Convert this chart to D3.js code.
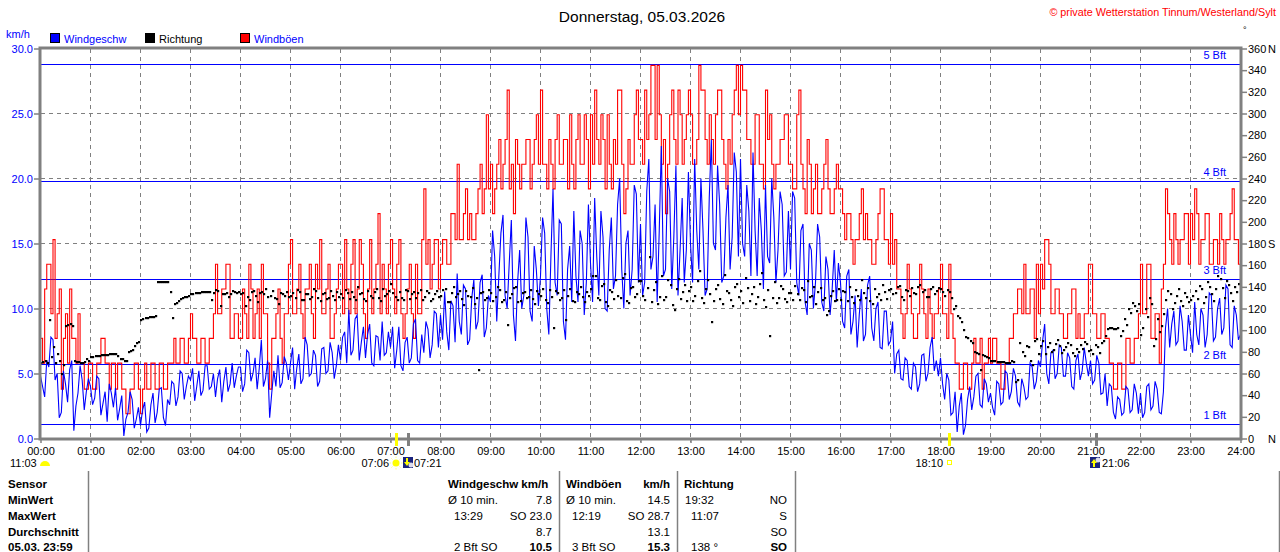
<!DOCTYPE html>
<html><head><meta charset="utf-8">
<script src="https://cdn.jsdelivr.net/npm/d3@7"></script>
<style>
html,body{margin:0;padding:0;background:#fff;}
svg{display:block;font-family:"Liberation Sans",Arial,sans-serif;}
</style></head>
<body><svg id="c" width="1280" height="552"></svg>
<script>
// ---- data (2.5-minute samples, 00:00 .. 24:00, one line per hour) ----
const windSpeed = [
 4.8,4.0,3.2,6.0,5.5,7.8,7.6,4.5,5.0,1.6,2.0,5.2,4.2,2.8,5.3,6.0,0.6,2.5,3.5,5.6,4.5,2.2,3.6,4.6,
 4.0,2.6,3.1,4.8,4.6,1.8,2.7,3.6,1.3,4.2,3.5,2.4,3.9,1.4,2.3,3.3,0.2,1.5,2.0,3.6,3.0,0.8,1.5,2.4,
 1.0,2.2,2.8,0.5,0.8,2.6,3.5,1.2,2.0,3.8,3.9,1.6,1.0,3.0,2.6,4.4,4.2,2.5,3.2,5.2,5.0,3.0,4.0,4.8,
 4.5,5.4,2.9,4.0,5.2,3.3,3.7,5.6,5.6,3.8,4.0,5.0,3.2,4.6,5.3,2.8,4.4,5.5,3.6,4.2,5.8,3.9,4.8,5.5,
 5.5,3.6,4.2,6.8,6.6,4.4,5.0,6.2,3.8,5.4,7.6,4.0,4.6,6.0,1.6,3.5,5.2,4.0,6.4,3.9,4.3,6.3,5.8,4.5,
 5.8,7.0,3.8,5.4,6.5,4.2,4.6,7.8,7.2,4.8,5.0,6.8,6.4,4.0,4.4,6.9,7.0,5.0,5.2,7.4,6.6,4.6,5.6,7.2,
 6.0,7.8,8.2,5.8,9.9,6.4,6.8,9.2,9.5,6.0,7.4,8.6,6.2,8.0,8.8,5.8,5.6,7.9,7.8,6.0,9.0,6.4,6.6,8.2,
 7.0,8.6,5.4,6.8,8.6,5.6,5.2,7.4,7.8,5.8,6.2,8.8,9.2,6.0,5.8,8.0,6.6,9.0,8.4,6.2,7.2,9.8,9.6,7.0,
 9.5,7.6,11.3,8.2,6.8,10.6,10.2,7.4,12.7,9.0,8.0,11.8,11.5,7.2,7.6,10.8,12.2,8.4,9.0,12.0,12.6,7.8,8.5,11.0,
 10.5,16.0,14.0,9.0,12.5,15.8,17.2,11.0,10.0,13.5,16.8,9.5,7.5,12.0,14.5,10.0,11.0,17.0,15.5,9.8,9.0,14.8,13.0,10.2,
 12.5,17.0,15.8,10.0,8.0,14.0,19.2,12.0,11.0,16.8,16.5,9.0,7.6,13.0,14.8,10.5,17.5,12.5,10.5,16.0,15.0,9.5,12.0,18.0,
 13.5,10.5,18.5,14.0,11.0,17.5,15.5,10.0,9.8,14.5,17.0,11.5,12.5,18.0,20.0,13.0,10.0,15.0,16.0,11.0,13.0,19.5,18.8,12.0,
 16.5,11.0,12.0,19.0,21.5,13.0,14.0,18.0,10.5,16.0,22.5,12.5,13.0,20.0,19.0,11.5,15.5,21.0,11.0,14.5,18.5,12.0,14.5,20.5,
 15.0,12.0,21.5,16.0,13.0,20.0,16.0,11.0,11.5,18.5,23.0,15.0,14.5,21.0,18.0,12.0,12.5,17.0,19.5,13.0,15.5,22.0,20.5,14.0,
 21.5,15.0,14.0,19.5,17.5,12.5,22.0,16.0,12.5,18.5,16.0,11.5,19.5,14.0,13.5,20.0,17.0,12.0,14.5,19.0,18.0,12.5,12.8,17.5,
 13.0,19.0,18.5,12.0,11.0,16.0,16.5,10.5,9.5,15.0,14.5,10.0,12.0,16.5,15.5,10.5,9.8,14.0,13.0,9.5,11.5,14.5,10.5,13.5,
 12.0,9.0,8.5,12.5,13.0,8.0,9.0,11.0,7.0,9.5,11.5,7.5,8.0,11.8,12.5,8.5,7.5,10.0,10.5,7.0,6.9,9.8,9.8,7.2,
 7.5,9.0,5.0,6.5,6.8,4.6,4.5,6.2,6.0,4.0,3.8,5.8,5.5,3.6,4.2,6.4,6.5,4.4,5.0,7.0,7.8,5.2,6.0,4.8,
 6.2,4.2,3.0,5.0,4.5,1.8,2.0,3.6,0.5,2.5,3.5,0.3,1.0,3.0,4.0,2.2,3.2,4.8,5.0,2.6,2.4,4.6,4.2,2.8,
 3.5,2.4,1.8,4.4,4.2,2.6,2.8,5.2,5.0,3.0,3.6,5.4,4.8,2.8,2.5,4.6,4.0,3.0,3.2,5.8,5.5,3.8,4.4,6.0,
 5.5,7.5,8.8,5.0,4.2,6.6,6.8,4.6,5.0,7.2,7.0,4.8,4.8,6.6,6.2,4.0,3.8,6.0,6.5,4.5,5.2,7.0,5.8,4.8,
 6.0,4.2,4.5,6.4,5.8,3.4,3.5,5.0,2.5,4.2,4.0,2.0,1.5,3.2,3.0,1.8,2.0,4.0,3.8,2.0,2.2,4.2,3.5,1.9,
 3.5,1.6,2.0,4.0,4.2,2.2,2.5,4.4,3.8,2.0,1.9,3.6,8.5,10.0,7.0,8.8,9.8,7.2,7.5,10.2,9.0,6.8,6.8,9.5,
 8.0,6.6,10.5,8.0,7.2,10.0,9.5,7.0,8.0,11.2,11.0,7.5,7.8,10.0,10.8,8.0,8.5,11.8,11.5,7.2,7.0,10.2,9.5,7.6,
 8.0
];
const windGust = [
 7.7,5.8,11.5,13.4,13.4,9.6,15.3,7.7,9.6,11.5,3.8,7.7,9.6,5.8,11.5,7.7,7.7,5.8,9.6,5.8,5.8,3.8,3.8,5.8,
 5.8,3.8,3.8,5.8,5.8,7.7,7.7,5.8,5.8,3.8,5.8,5.8,3.8,5.8,5.8,3.8,3.8,1.9,1.9,3.8,3.8,5.8,5.8,3.8,
 1.9,3.8,5.8,3.8,3.8,5.8,5.8,3.8,3.8,5.8,5.8,3.8,3.8,5.8,5.8,5.8,7.7,5.8,5.8,7.7,7.7,5.8,5.8,7.7,
 9.6,7.7,7.7,5.8,5.8,7.7,7.7,5.8,5.8,7.7,7.7,9.6,13.4,9.6,9.6,11.5,11.5,13.4,13.4,7.7,7.7,9.6,9.6,7.7,
 7.7,11.5,9.6,7.7,13.4,11.5,7.7,9.6,11.5,7.7,13.4,9.6,9.6,5.8,3.8,7.7,7.7,9.6,11.5,7.7,5.8,9.6,9.6,13.4,
 15.3,9.6,9.6,11.5,13.4,9.6,7.7,11.5,11.5,13.4,9.6,7.7,13.4,11.5,15.3,9.6,9.6,11.5,13.4,7.7,7.7,9.6,11.5,13.4,
 13.4,9.6,15.3,11.5,9.6,13.4,15.3,9.6,11.5,15.3,13.4,9.6,7.7,11.5,15.3,9.6,11.5,13.4,17.3,9.6,13.4,11.5,9.6,13.4,
 15.3,11.5,9.6,13.4,15.3,9.6,7.7,9.6,11.5,13.4,9.6,7.7,13.4,9.6,9.6,15.3,19.2,13.4,15.3,11.5,13.4,15.3,15.3,11.5,
 13.4,15.3,15.3,13.4,13.4,17.3,17.3,15.3,21.1,15.3,15.3,17.3,19.2,15.3,17.3,15.3,15.3,17.3,19.2,21.1,17.3,19.2,24.9,19.2,
 21.1,17.3,19.2,21.1,23.0,19.2,21.1,23.0,26.8,19.2,21.1,17.3,23.0,21.1,19.2,21.1,21.1,23.0,23.0,19.2,21.1,23.0,24.9,21.1,
 26.8,21.1,21.1,19.2,23.0,21.1,19.2,23.0,24.9,21.1,21.1,23.0,23.0,19.2,24.9,21.1,19.2,23.0,24.9,21.1,21.1,24.9,23.0,19.2,
 24.9,21.1,26.8,23.0,21.1,24.9,23.0,19.2,24.9,21.1,19.2,23.0,21.1,26.8,26.8,21.1,17.3,19.2,23.0,21.1,21.1,24.9,26.8,23.0,
 23.0,21.1,26.8,23.0,24.9,28.7,28.7,23.0,28.7,24.9,21.1,23.0,17.3,21.1,24.9,26.8,23.0,21.1,26.8,24.9,21.1,23.0,24.9,26.8,
 24.9,21.1,21.1,23.0,28.7,26.8,26.8,23.0,21.1,24.9,23.0,21.1,24.9,26.8,26.8,23.0,21.1,19.2,23.0,21.1,24.9,26.8,28.7,24.9,
 28.7,26.8,26.8,23.0,23.0,21.1,21.1,24.9,24.9,21.1,21.1,19.2,26.8,23.0,24.9,21.1,19.2,21.1,21.1,23.0,23.0,24.9,24.9,21.1,
 21.1,19.2,19.2,24.9,26.8,21.1,19.2,17.3,23.0,21.1,17.3,19.2,21.1,17.3,17.3,19.2,21.1,23.0,19.2,17.3,17.3,19.2,21.1,19.2,
 19.2,17.3,15.3,17.3,17.3,15.3,13.4,15.3,15.3,17.3,19.2,15.3,17.3,15.3,15.3,13.4,13.4,15.3,17.3,19.2,19.2,15.3,15.3,13.4,
 17.3,13.4,15.3,11.5,11.5,9.6,7.7,9.6,13.4,11.5,9.6,7.7,7.7,9.6,13.4,11.5,9.6,7.7,11.5,9.6,7.7,9.6,9.6,11.5,
 13.4,9.6,9.6,7.7,13.4,9.6,7.7,5.8,5.8,3.8,3.8,5.8,5.8,3.8,3.8,5.8,7.7,5.8,5.8,7.7,3.8,5.8,5.8,7.7,
 5.8,7.7,7.7,5.8,5.8,3.8,3.8,5.8,5.8,7.7,7.7,9.6,9.6,11.5,11.5,9.6,13.4,9.6,9.6,11.5,11.5,7.7,13.4,9.6,
 13.4,11.5,15.3,15.3,13.4,9.6,9.6,11.5,11.5,9.6,9.6,7.7,7.7,9.6,9.6,11.5,11.5,7.7,9.6,7.7,7.7,9.6,9.6,13.4,
 13.4,9.6,9.6,7.7,7.7,9.6,9.6,7.7,7.7,5.8,5.8,3.8,3.8,5.8,5.8,3.8,3.8,7.7,7.7,5.8,5.8,7.7,7.7,9.6,
 13.4,9.6,9.6,13.4,13.4,7.7,7.7,9.6,9.6,5.8,11.5,13.4,19.2,17.3,15.3,13.4,17.3,15.3,13.4,15.3,15.3,17.3,17.3,13.4,
 17.3,15.3,19.2,17.3,13.4,15.3,15.3,17.3,17.3,13.4,13.4,15.3,15.3,13.4,17.3,15.3,13.4,15.3,15.3,17.3,19.2,15.3,15.3,13.4,
 11.5
];
const windDir = [
 70,71,72,70,109,75,84,70,78,72,60,68,104,105,106,104,72,71,71,70,70,71,73,72,
 75,75,76,76,76,77,77,77,77,78,78,78,78,76,73,73,72,72,80,81,82,85,88,89,
 109,110,111,111,112,112,112,113,144,144,144,144,144,144,135,111,124,125,127,129,130,131,131,132,
 133,133,134,134,134,135,135,135,135,135,128,134,137,136,122,133,133,134,131,133,136,135,134,135,
 133,134,122,131,128,135,136,132,126,134,135,133,138,131,132,136,130,129,124,134,133,132,135,131,
 132,134,130,137,135,128,128,133,133,129,131,138,136,130,127,133,134,129,130,136,132,128,135,131,
 133,130,137,134,129,135,131,128,140,133,134,129,127,136,132,130,135,138,130,127,138,132,133,136,
 143,134,131,128,135,130,128,137,136,129,133,135,130,134,137,128,131,136,134,127,129,133,136,131,
 132,137,138,126,126,134,140,131,133,136,129,123,136,132,131,139,124,130,63,134,135,128,130,137,
 134,127,131,140,137,126,128,135,105,130,133,139,140,126,127,134,135,130,131,137,129,124,136,133,
 132,138,128,125,137,131,102,136,134,128,130,137,109,132,138,127,126,135,133,140,131,126,135,132,
 138,150,150,130,128,141,143,126,122,137,135,129,146,132,130,148,152,127,125,139,140,131,133,145,
 145,132,128,139,168,126,137,144,124,131,150,128,131,146,142,123,119,138,147,129,135,142,127,136,
 140,127,132,145,155,130,125,138,146,133,108,127,138,142,129,124,151,136,134,128,122,140,143,131,
 136,125,148,139,127,133,140,124,131,143,153,128,121,137,95,130,144,125,130,141,138,129,126,134,
 134,128,141,133,128,139,137,126,145,131,132,140,124,135,139,128,130,114,118,132,136,127,128,138,
 128,136,135,127,140,131,125,137,132,128,146,134,130,139,127,124,138,131,133,128,142,135,129,137,
 138,133,134,140,141,131,128,137,136,132,139,134,133,140,142,135,137,131,131,138,140,133,136,139,
 138,135,132,137,135,130,120,122,113,111,108,100,94,93,90,88,80,79,78,63,77,76,75,74,
 72,72,72,71,71,71,71,70,70,70,72,71,52,54,88,80,76,85,84,72,68,90,92,78,
 85,90,78,84,88,80,82,87,91,85,79,82,84,88,86,79,76,83,80,86,83,89,87,81,
 82,78,86,84,79,88,90,95,101,102,102,101,101,102,95,99,110,105,120,116,125,122,118,124,
 96,102,120,112,130,124,85,92,110,98,104,115,128,136,133,120,125,132,138,127,122,134,131,126,
 128,132,136,129,141,138,125,131,144,140,133,127,138,150,147,139,130,145,142,134,127,140,135,143
];
const stepMinutes = 2.5;
const hourLabels = d3.range(0,25).map(h => String(h).padStart(2,"0") + ":00");
const speedTicks = [0,5,10,15,20,25,30];
const dirTicks = d3.range(0,361,20);
const dirNames = {0:"N",180:"S",360:"N"};
const bftLabels = ["1 Bft","2 Bft","3 Bft","4 Bft","5 Bft"];
const bftValues = [1.08,5.76,12.24,19.8,28.8];
const legendNames = ["Windgeschw","Richtung","Windböen"];
const legendColors = ["#0000ff","#000000","#ff0000"];
const astroTimes = [{t:"07:06",kind:"sunrise"},{t:"07:21",kind:"moonset"},{t:"18:10",kind:"sunset"},{t:"21:06",kind:"moonrise"}];
const dayLength = "11:03";
const tableRows = ["Sensor","MinWert","MaxWert","Durchschnitt","05.03. 23:59"];
const speedCol = [["Ø 10 min.","7.8"],["13:29","SO 23.0"],["","8.7"],["2 Bft SO","10.5"]];
const gustCol  = [["Ø 10 min.","14.5"],["12:19","SO 28.7"],["","13.1"],["3 Bft SO","15.3"]];
const dirCol   = [["19:32","NO"],["11:07","S"],["","SO"],["138 °","SO"]];

// ---- drawing ----
const svg = d3.select("#c");
const L=40.5, R=1240.5, T=48.5, B=438.5;
const x = d3.scaleLinear().domain([0,1440]).range([L,R]);
const y = d3.scaleLinear().domain([0,30]).range([B,T]);
const yd = d3.scaleLinear().domain([0,360]).range([B,T]);
const gray="#808080";
const tmin = s => {const [h,m]=s.split(":").map(Number);return h*60+m;};

// title etc
svg.append("text").attr("x",642).attr("y",16).attr("text-anchor","middle").attr("dominant-baseline","central")
  .attr("font-size",15.5).text("Donnerstag, 05.03.2026");
svg.append("text").attr("x",1276).attr("y",12).attr("text-anchor","end").attr("dominant-baseline","central")
  .attr("font-size",10.8).attr("fill","#ff0000").text("© private Wetterstation Tinnum/Westerland/Sylt");
svg.append("text").attr("x",6).attr("y",34).attr("dominant-baseline","central").attr("font-size",11).attr("fill","#0000ff").text("km/h");
svg.append("text").attr("x",1243).attr("y",30).attr("dominant-baseline","central").attr("font-size",9).text("°");

// legend
const lgX=[50,145,240];
legendNames.forEach((n,i)=>{
  svg.append("rect").attr("x",lgX[i]+0.5).attr("y",33.5).attr("width",9).attr("height",9).attr("fill",legendColors[i]).attr("stroke","#000");
  svg.append("text").attr("x",lgX[i]+14).attr("y",38.5).attr("dominant-baseline","central").attr("font-size",11)
    .attr("fill", i===1?"#000":"#0000ff").text(n);
});

// grid
const g = svg.append("g").attr("shape-rendering","crispEdges");
d3.range(1,24).forEach(h=>{
  g.append("line").attr("x1",x(h*60)).attr("x2",x(h*60)).attr("y1",T).attr("y2",B+3).attr("stroke",gray).attr("stroke-dasharray","4,4");
});
speedTicks.filter(v=>v>0&&v<30).forEach(v=>{
  g.append("line").attr("x1",L).attr("x2",R).attr("y1",y(v)).attr("y2",y(v)).attr("stroke",gray).attr("stroke-dasharray","4,4");
});
// Beaufort lines
bftValues.forEach((v,i)=>{
  g.append("line").attr("x1",L).attr("x2",R).attr("y1",Math.round(y(v))+0.5).attr("y2",Math.round(y(v))+0.5).attr("stroke","#0000ff");
  svg.append("text").attr("x",1226).attr("y",y(v)-9).attr("text-anchor","end").attr("dominant-baseline","central")
    .attr("font-size",11).attr("fill","#0000ff").text(bftLabels[i]);
});

// series
const pts = arr => arr.map((v,i)=>[x(i*stepMinutes),y(v)]);
svg.append("path").attr("d",d3.line().curve(d3.curveStepAfter)(pts(windGust)))
  .attr("fill","none").attr("stroke","#ff0000").attr("stroke-width",1.1);
svg.append("path").attr("d",d3.line()(pts(windSpeed)))
  .attr("fill","none").attr("stroke","#0000ff").attr("stroke-width",1.1);
svg.append("g").selectAll("rect").data(windDir).join("rect")
  .attr("x",(d,i)=>Math.round(x(i*stepMinutes+1))-1).attr("y",d=>Math.round(yd(d))-1)
  .attr("width",2.2).attr("height",2.2).attr("fill","#000");

// frame
const fr = svg.append("g").attr("stroke",gray).attr("stroke-width",3).attr("fill","none");
fr.append("rect").attr("x",L-0.5).attr("y",T-0.5).attr("width",R-L+1).attr("height",B-T+1);

// left axis
const la = svg.append("g").attr("transform",`translate(${L-1.5},0)`)
  .call(d3.axisLeft(y).tickValues(speedTicks).tickFormat(d3.format(".1f")).tickSize(5).tickPadding(1));
la.select(".domain").remove();
la.selectAll("line").attr("stroke",gray).attr("stroke-width",1.5);
la.selectAll("text").attr("fill","#0000ff").attr("font-size",11).attr("font-family","Liberation Sans, Arial, sans-serif");

// right axis
const ra = svg.append("g").attr("transform",`translate(${R+1.5},0)`)
  .call(d3.axisRight(yd).tickValues(dirTicks).tickFormat(d=>d).tickSize(5).tickPadding(1));
ra.select(".domain").remove();
ra.selectAll("line").attr("stroke",gray).attr("stroke-width",1.5);
ra.selectAll("text").attr("fill","#000").attr("font-size",11).attr("font-family","Liberation Sans, Arial, sans-serif");
dirTicks.filter(d=>dirNames[d]).forEach(d=>{
  svg.append("text").attr("x",1268).attr("y",yd(d)).attr("dominant-baseline","central").attr("font-size",11).text(dirNames[d]);
});

// bottom axis
const ba = svg.append("g").attr("transform",`translate(0,${B+1.5})`)
  .call(d3.axisBottom(x).tickValues(d3.range(0,1441,60)).tickFormat((d,i)=>hourLabels[i]).tickSize(3).tickPadding(4));
ba.select(".domain").remove();
ba.selectAll("line").attr("stroke",gray).attr("stroke-width",1.5);
ba.selectAll("text").attr("fill","#000").attr("font-size",11).attr("font-family","Liberation Sans, Arial, sans-serif");

// astro markers
const am = svg.append("g");
astroTimes.forEach(a=>{
  const xx = Math.round(x(tmin(a.t)));
  const isSun = a.kind.startsWith("sun");
  am.append("rect").attr("x",xx-1).attr("y",433).attr("width",3).attr("height",13).attr("fill",isSun?"#ffff00":gray);
});
function sunIcon(cx,cy){
  am.append("circle").attr("cx",cx).attr("cy",cy).attr("r",3.5).attr("fill","#ffff00");
  d3.range(8).forEach(k=>{const an=k*Math.PI/4;am.append("line").attr("x1",cx+5*Math.cos(an)).attr("y1",cy+5*Math.sin(an)).attr("x2",cx+6.5*Math.cos(an)).attr("y2",cy+6.5*Math.sin(an)).attr("stroke","#ffff80").attr("stroke-width",1);});
}
function moonIcon(x0,y0,down){
  am.append("rect").attr("x",x0).attr("y",y0).attr("width",10).attr("height",11).attr("fill","#1a237e");
  am.append("circle").attr("cx",x0+8).attr("cy",down?y0+8:y0+3).attr("r",2.5).attr("fill","#dde");
  const ax=x0+4;
  if(down) am.append("path").attr("d",`M${ax-1},${y0+1}h2v4h2l-3,4l-3,-4h2z`).attr("fill","#ffff00");
  else am.append("path").attr("d",`M${ax},${y0+2}l3,4h-2v4h-2v-4h-2z`).attr("fill","#ffff00");
}
const fs=11;
svg.append("text").attr("x",10).attr("y",463).attr("dominant-baseline","central").attr("font-size",fs).text(dayLength);
am.append("path").attr("d","M40,466 a5,5 0 0 1 10,0 z").attr("fill","#ffff00");
svg.append("text").attr("x",389).attr("y",463).attr("text-anchor","end").attr("dominant-baseline","central").attr("font-size",fs).text(astroTimes[0].t);
sunIcon(396,463);
moonIcon(403,457,true);
svg.append("text").attr("x",414).attr("y",463).attr("dominant-baseline","central").attr("font-size",fs).text(astroTimes[1].t);
svg.append("text").attr("x",943).attr("y",463).attr("text-anchor","end").attr("dominant-baseline","central").attr("font-size",fs).text(astroTimes[2].t);
am.append("rect").attr("x",947.5).attr("y",460.5).attr("width",4).attr("height",4).attr("fill","none").attr("stroke","#ffff00");
moonIcon(1090,457,false);
svg.append("text").attr("x",1102).attr("y",463).attr("dominant-baseline","central").attr("font-size",fs).text(astroTimes[3].t);

// table
const tb = svg.append("g").attr("font-size",11.5);
const rowY = [484,500,516,532,546.5];
tableRows.forEach((r,i)=>tb.append("text").attr("x",8).attr("y",rowY[i]).attr("dominant-baseline","central").attr("font-weight","bold").text(r));
[88.5,559.5,677.5,795.5,1279.5].forEach(xx=>tb.append("line").attr("x1",xx).attr("x2",xx).attr("y1",471).attr("y2",552).attr("stroke",gray).attr("stroke-width",1.5));
function col(x0,xr,head,headR,vals,boldLast){
  tb.append("text").attr("x",x0).attr("y",rowY[0]).attr("dominant-baseline","central").attr("font-weight","bold").text(head);
  if(headR) tb.append("text").attr("x",xr).attr("y",rowY[0]).attr("text-anchor","end").attr("dominant-baseline","central").attr("font-weight","bold").text(headR);
  vals.forEach((v,i)=>{
    const indent = (v[0].startsWith("Ø")||i===0&&head==="Richtung") ? 0 : 6;
    tb.append("text").attr("x",x0+indent+(head==="Richtung"?1:0)).attr("y",rowY[i+1]).attr("dominant-baseline","central").text(v[0]);
    tb.append("text").attr("x",xr).attr("y",rowY[i+1]).attr("text-anchor","end").attr("dominant-baseline","central")
      .attr("font-weight", (boldLast && i===3)?"bold":"normal").text(v[1]);
  });
}
col(448,552,"Windgeschw km/h",null,speedCol,true);
col(566,670,"Windböen","km/h",gustCol,true);
col(684,787,"Richtung",null,dirCol,true);
</script></body></html>
